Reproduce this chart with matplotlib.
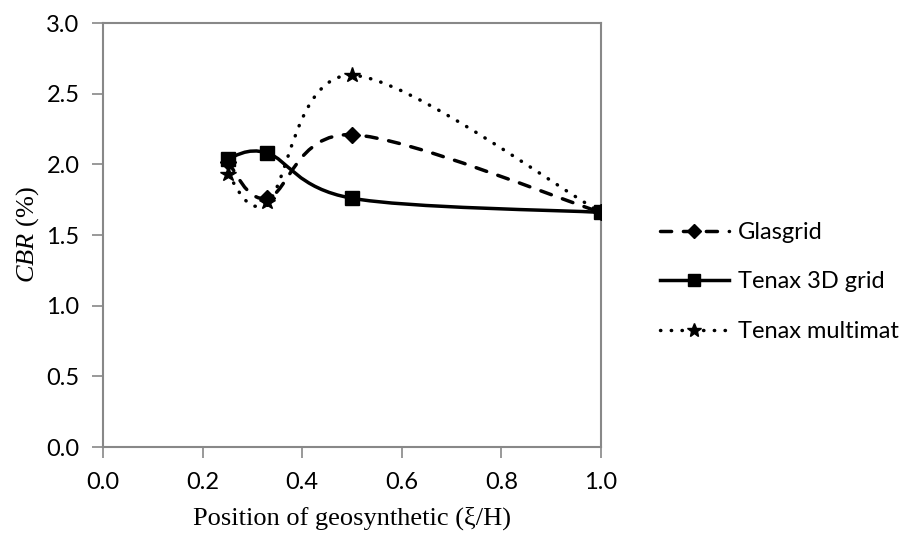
import matplotlib
matplotlib.use("Agg")
import matplotlib.pyplot as plt
import numpy as np
from matplotlib.path import Path
from matplotlib.patches import PathPatch
from matplotlib.lines import Line2D

plt.rcParams["mathtext.fontset"] = "custom"
plt.rcParams["mathtext.it"] = "Liberation Serif:italic"
plt.rcParams["mathtext.rm"] = "Liberation Serif"

# positions of the geosynthetic layer and measured CBR values
position = [0.25, 0.33, 0.5, 1.0]
glasgrid = [2.02, 1.76, 2.21, 1.66]
tenax_3d = [2.04, 2.08, 1.76, 1.66]
multimat = [1.93, 1.73, 2.63, 1.66]

series_names = ["Glasgrid", "Tenax 3D grid", "Tenax multimat"]

sans = ["Lato", "DejaVu Sans"]


def smooth_path(x, y):
    # spreadsheet-style smoothed line: cubic bezier through every point
    pts = np.column_stack([x, y]).astype(float)
    ext = np.vstack([pts[0], pts, pts[-1]])
    verts = [pts[0]]
    codes = [Path.MOVETO]
    for i in range(len(pts) - 1):
        p0, p1, p2, p3 = ext[i], ext[i + 1], ext[i + 2], ext[i + 3]
        c1 = p1 + (p2 - p0) / 6.0
        c2 = p2 - (p3 - p1) / 6.0
        verts += [c1, c2, p2]
        codes += [Path.CURVE4] * 3
    return Path(verts, codes)


fig = plt.figure(figsize=(9.09, 5.39), dpi=100)
ax = fig.add_axes([103 / 909, 1 - 447 / 539, 498 / 909, 424 / 539])

styles = [
    dict(ls=(0, (3.2, 3.4)), marker="D", ms=8),
    dict(ls="-", marker="s", ms=10),
    dict(ls=(0, (0.1, 3.0)), marker="*", ms=11.5),
]
data = [glasgrid, tenax_3d, multimat]

handles = []
for name, vals, st in zip(series_names, data, styles):
    patch = PathPatch(smooth_path(position, vals), fill=False, ec="black",
                      lw=2.5, ls=st["ls"], capstyle="round", zorder=2)
    ax.add_patch(patch)
    ax.plot(position, vals, ls="none", marker=st["marker"], ms=st["ms"],
            color="black", zorder=3)
    handles.append(Line2D([], [], color="black", lw=2.5, ls=st["ls"],
                          marker=st["marker"], ms=st["ms"] * 0.9,
                          dash_capstyle="round", label=name))

ax.set_xlim(0, 1.0)
ax.set_ylim(0, 3.0)
ax.set_xticks(np.arange(0, 1.01, 0.2))
ax.set_yticks(np.arange(0, 3.01, 0.5))
ax.xaxis.set_major_formatter(matplotlib.ticker.FormatStrFormatter("%.1f"))
ax.yaxis.set_major_formatter(matplotlib.ticker.FormatStrFormatter("%.1f"))

for sp in ax.spines.values():
    sp.set_color("#888888")
    sp.set_linewidth(1.5)
ax.tick_params(direction="out", length=8, width=1.2, color="#888888",
               labelsize=17)
ax.tick_params(axis="x", pad=10)
ax.tick_params(axis="y", pad=9)
for lbl in ax.get_xticklabels() + ax.get_yticklabels():
    lbl.set_family(sans)

ax.set_xlabel("Position of geosynthetic (\u03be/H)", family="Liberation Serif",
              fontsize=19, labelpad=10)
ax.set_ylabel(r"$\mathit{CBR}$ (%)", family="Liberation Serif", fontsize=19,
              labelpad=4)

leg = fig.legend(handles=handles, loc="center left",
                 bbox_to_anchor=(639 / 909, 1 - 282 / 539), frameon=False,
                 handlelength=2.9, handletextpad=0.38, labelspacing=1.2,
                 prop={"family": sans, "size": 17})

fig.savefig("out.png", dpi=100)
